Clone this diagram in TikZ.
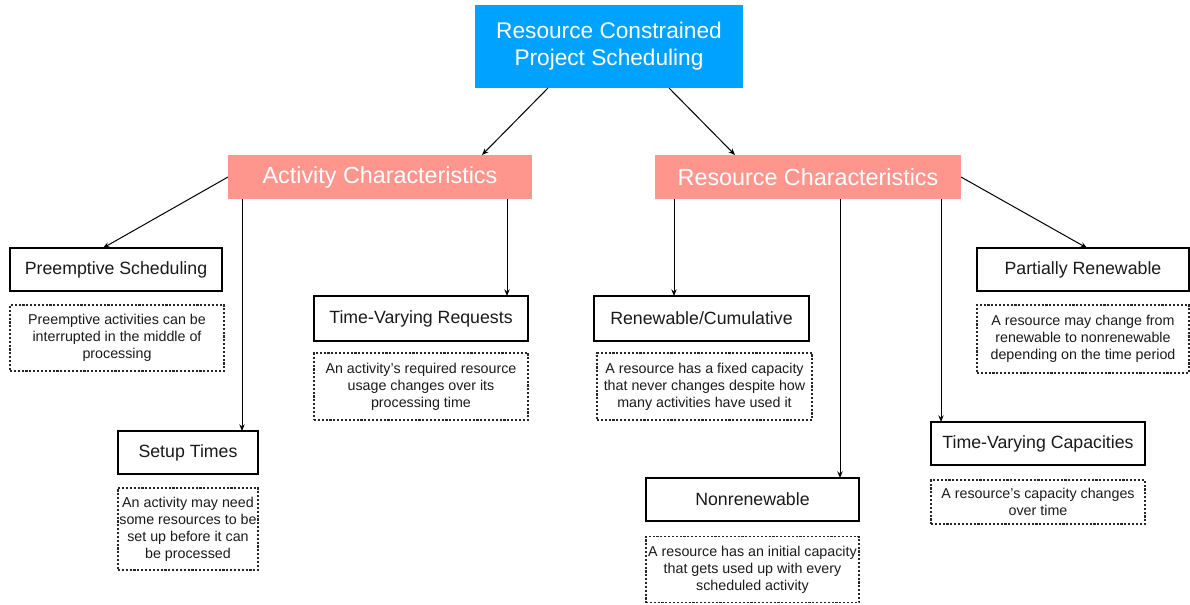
\documentclass[tikz,border=0pt]{standalone}
\usepackage{fontspec}
\setmainfont{Liberation Sans}
\usetikzlibrary{arrows.meta}
\definecolor{rootblue}{RGB}{0,162,255}
\definecolor{catsalmon}{RGB}{255,150,142}
\definecolor{ink}{RGB}{26,26,26}

\begin{document}
\begin{tikzpicture}[x=0.75pt,y=-0.75pt,
  every node/.style={inner sep=0pt, outer sep=0pt, align=center},
  wh/.style 2 args={minimum width=#1*0.75pt, minimum height=#2*0.75pt},
  rootbox/.style={fill=rootblue, text=white, font=\fontsize{17}{20.25}\selectfont},
  catbox/.style={fill=catsalmon, text=white, font=\fontsize{17.5}{21}\selectfont},
  leafbox/.style={draw=black, line width=0.9pt, fill=white, text=ink, font=\fontsize{13.3}{16}\selectfont},
  notebox/.style={draw=black!85, line width=0.8pt, dash pattern=on 1.6pt off 1.3pt, text=ink, font=\fontsize{10.7}{12.75}\selectfont},
  link/.style={line width=0.75pt, -{Stealth[length=5pt,width=4pt]}}
]
\useasboundingbox (0,0) rectangle (1190,604);

% root and the two category headers
\node[rootbox, wh={268}{83}] (root) at (609,46.5) {Resource Constrained\\Project Scheduling};
\node[catbox, wh={304}{44}] (act) at (380,177) {Activity Characteristics};
\node[catbox, wh={306}{44}] (res) at (808,177) {Resource Characteristics};

% activity characteristics
\node[leafbox, wh={212}{43}] (pre) at (116,269.5) {Preemptive Scheduling};
\node[notebox, wh={214}{66}] (preN) at (117,338) {Preemptive activities can be\\interrupted in the middle of\\processing};
\node[leafbox, wh={140}{43}] (setup) at (188,452.5) {Setup Times};
\node[notebox, wh={140}{82}] (setupN) at (188,529) {An activity may need\\some resources to be\\set up before it can\\be processed};
\node[leafbox, wh={214}{45}] (tvr) at (421,318.5) {Time-Varying Requests};
\node[notebox, wh={214}{67}] (tvrN) at (421,386.5) {An activity’s required resource\\usage changes over its\\processing time};

% resource characteristics
\node[leafbox, wh={215}{45}] (ren) at (701.5,318.5) {Renewable/Cumulative};
\node[notebox, wh={215}{67}] (renN) at (704.5,386.5) {A resource has a fixed capacity\\that never changes despite how\\many activities have used it};
\node[leafbox, wh={213}{43}] (non) at (752.5,499.5) {Nonrenewable};
\node[notebox, wh={213}{66}] (nonN) at (752.5,569.5) {A resource has an initial capacity\\that gets used up with every\\scheduled activity};
\node[leafbox, wh={214}{43}] (tvc) at (1038,443.5) {Time-Varying Capacities};
\node[notebox, wh={214}{44}] (tvcN) at (1038,502) {A resource’s capacity changes\\over time};
\node[leafbox, wh={212}{43}] (par) at (1083,269.5) {Partially Renewable};
\node[notebox, wh={212}{68}] (parN) at (1083,339) {A resource may change from\\renewable to nonrenewable\\depending on the time period};

% connectors
\draw[link] ([xshift=-45.75pt]root.south) -- ([xshift=76.5pt]act.north);
\draw[link] ([xshift=45pt]root.south) -- ([xshift=-54.75pt]res.north);

\draw[link] (act.west) -- ([xshift=-9.75pt]pre.north);
\draw[link] ([xshift=-103.5pt]act.south) -- ([xshift=40.5pt]setup.north);
\draw[link] ([xshift=95.25pt]act.south) -- ([xshift=64.5pt]tvr.north);

\draw[link] ([xshift=-100.5pt]res.south) -- ([xshift=-20.625pt]ren.north);
\draw[link] ([xshift=24pt]res.south) -- ([xshift=65.625pt]non.north);
\draw[link] ([xshift=99.75pt]res.south) -- ([xshift=-72.75pt]tvc.north);
\draw[link] (res.east) -- ([xshift=3pt]par.north);
\end{tikzpicture}
\end{document}
